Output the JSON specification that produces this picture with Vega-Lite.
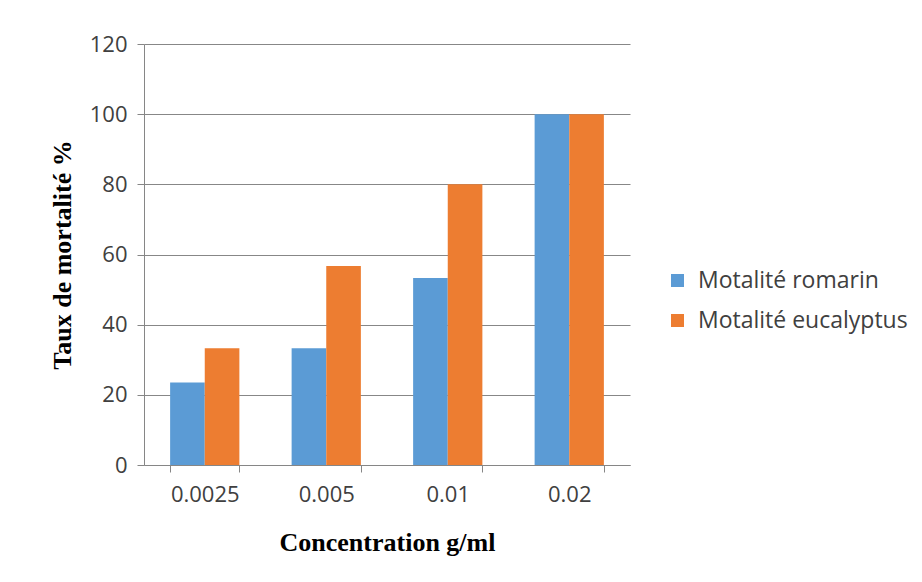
{
  "$schema": "https://vega.github.io/schema/vega-lite/v6.json",
  "width": 486,
  "height": 421,
  "autosize": {"type": "none"},
  "padding": {"left": 144, "top": 44, "right": 292, "bottom": 117},
  "background": "white",
  "data": {
    "values": [
      {"concentration": "0.0025", "serie": "Motalité romarin", "taux": 23.5},
      {"concentration": "0.0025", "serie": "Motalité eucalyptus", "taux": 33.3},
      {"concentration": "0.005", "serie": "Motalité romarin", "taux": 33.3},
      {"concentration": "0.005", "serie": "Motalité eucalyptus", "taux": 56.7},
      {"concentration": "0.01", "serie": "Motalité romarin", "taux": 53.3},
      {"concentration": "0.01", "serie": "Motalité eucalyptus", "taux": 80},
      {"concentration": "0.02", "serie": "Motalité romarin", "taux": 100},
      {"concentration": "0.02", "serie": "Motalité eucalyptus", "taux": 100}
    ]
  },
  "mark": {"type": "bar"},
  "encoding": {
    "x": {
      "field": "concentration",
      "type": "nominal",
      "sort": null,
      "scale": {"paddingInner": 0.43, "paddingOuter": 0.215},
      "axis": {
        "title": "Concentration g/ml",
        "labelAngle": 0,
        "tickBand": "extent",
        "labelFont": "Open Sans",
        "labelFontSize": 22,
        "labelColor": "#404040",
        "labelPadding": 12,
        "tickSize": 7,
        "tickColor": "#868686",
        "domainColor": "#868686",
        "titleFont": "Liberation Serif",
        "titleFontSize": 26,
        "titleFontWeight": "bold",
        "titleColor": "#000000",
        "titleBaseline": "alphabetic",
        "titleY": 85
      }
    },
    "xOffset": {"field": "serie", "type": "nominal", "sort": ["Motalité romarin", "Motalité eucalyptus"], "scale": {"paddingInner": 0, "paddingOuter": 0}},
    "y": {
      "field": "taux",
      "type": "quantitative",
      "scale": {"domain": [0, 120]},
      "axis": {
        "title": "Taux de mortalité %",
        "values": [0, 20, 40, 60, 80, 100, 120],
        "grid": true,
        "gridColor": "#878787",
        "gridWidth": 1,
        "labelFont": "Open Sans",
        "labelFontSize": 22,
        "labelColor": "#404040",
        "labelPadding": 10,
        "tickSize": 7,
        "tickColor": "#868686",
        "domainColor": "#868686",
        "titleFont": "Liberation Serif",
        "titleFontSize": 26,
        "titleFontWeight": "bold",
        "titleColor": "#000000",
        "titleAngle": -90,
        "titleBaseline": "middle",
        "titleAlign": "center",
        "titleX": -82,
        "titleY": 210.5
      }
    },
    "color": {
      "field": "serie",
      "type": "nominal",
      "sort": ["Motalité romarin", "Motalité eucalyptus"],
      "scale": {"domain": ["Motalité romarin", "Motalité eucalyptus"], "range": ["#5B9BD5", "#ED7D31"]},
      "legend": {
        "title": null,
        "orient": "none",
        "legendX": 522,
        "legendY": 225,
        "padding": 0,
        "symbolType": "square",
        "symbolSize": 169,
        "symbolStrokeWidth": 0,
        "labelFont": "Open Sans",
        "labelFontSize": 23,
        "labelColor": "#404040",
        "labelOffset": 9,
        "labelLimit": 0,
        "rowPadding": 16
      }
    }
  },
  "config": {"view": {"stroke": null}, "axis": {"domainWidth": 1, "tickWidth": 1}}
}
